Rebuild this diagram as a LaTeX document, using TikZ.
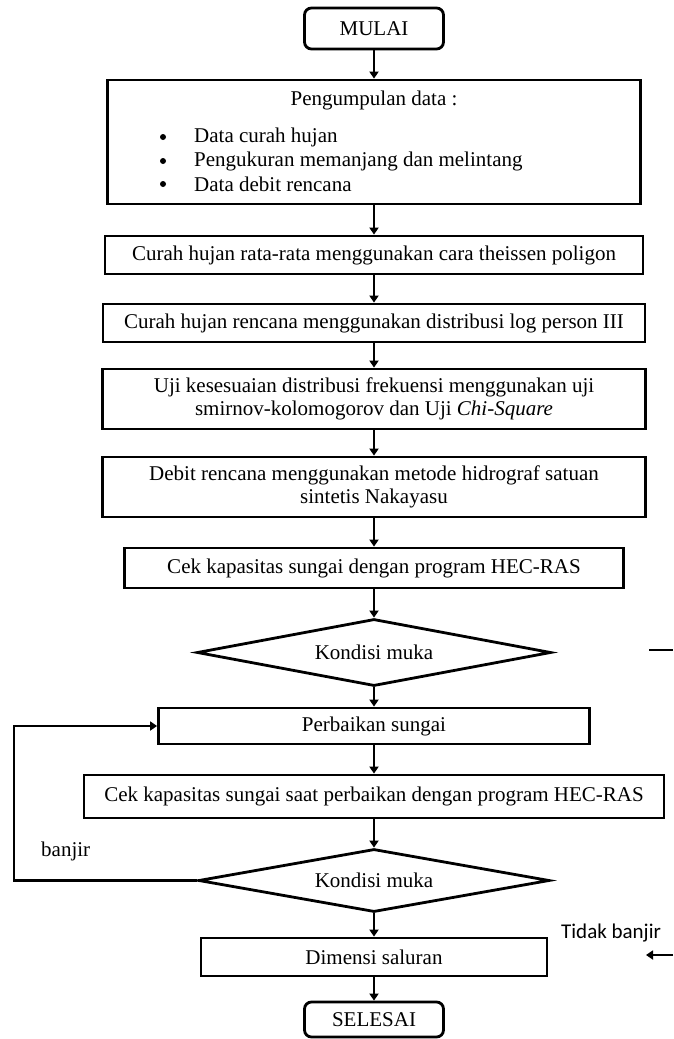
\documentclass[tikz,border=0pt]{standalone}
\usepackage{fontspec}
\setmainfont{Liberation Serif}
\newfontfamily\calibrifont{Carlito}
\usetikzlibrary{shapes.geometric,arrows.meta}
\begin{document}
\begin{tikzpicture}[x=1pt,y=-1pt,
  every node/.style={font=\fontsize{21}{23}\selectfont},
  box/.style={draw, line width=2.8pt, inner sep=0pt, align=center},
  term/.style={box, rounded corners=7pt},
  dec/.style={draw, diamond, line width=2.8pt, inner sep=0pt, shape aspect=5},
  arr/.style={line width=2.6pt, -{Triangle[length=7pt,width=9pt]}},
  plain/.style={line width=2.6pt},
  lab/.style={inner sep=0pt},
  dot/.style={circle, fill, inner sep=0pt, minimum size=6pt}
]
\useasboundingbox (0,0) rectangle (673,1039);
\fill[white] (0,0) rectangle (673,1039);

\node[term, minimum width=139pt, minimum height=41pt] (mulai) at (374,28.5) {MULAI};
\node[box, minimum width=533pt, minimum height=124pt] (b1) at (374,142) {};
\node[lab] (t0) at (374,100) {Pengumpulan data :};
\node[dot] (d1) at (163,137) {};
\node[dot] (d2) at (163,161) {};
\node[dot] (d3) at (163,184) {};
\node[lab, anchor=west] (i1) at (194,137) {Data curah hujan};
\node[lab, anchor=west] (i2) at (194,161) {Pengukuran memanjang dan melintang};
\node[lab, anchor=west] (i3) at (194,184) {Data debit rencana};

\node[box, minimum width=538pt, minimum height=38pt] (b2) at (374,255) {Curah hujan rata-rata menggunakan cara theissen poligon};
\node[box, minimum width=542pt, minimum height=38pt] (b3) at (374,323) {Curah hujan rencana menggunakan distribusi log person III};
\node[box, minimum width=543pt, minimum height=60pt] (b4) at (374,399) {Uji kesesuaian distribusi frekuensi menggunakan uji\\smirnov-kolomogorov dan Uji \textit{Chi-Square}};
\node[box, minimum width=543pt, minimum height=60pt] (b5) at (374,487) {Debit rencana menggunakan metode hidrograf satuan\\sintetis Nakayasu};
\node[box, minimum width=499pt, minimum height=40pt] (b6) at (374,568) {Cek kapasitas sungai dengan program HEC-RAS};
\node[dec, minimum width=354pt, minimum height=67pt] (k1) at (374,652.5) {Kondisi muka};
\node[box, minimum width=431pt, minimum height=36pt] (perb) at (374,726) {Perbaikan sungai};
\node[box, minimum width=580pt, minimum height=43pt] (cek2) at (374,796.5) {Cek kapasitas sungai saat perbaikan dengan program HEC-RAS};
\node[dec, minimum width=351pt, minimum height=63pt] (k2) at (374,880.5) {Kondisi muka};
\node[box, minimum width=346pt, minimum height=38pt] (dim) at (374,957) {Dimensi saluran};
\node[term, minimum width=139pt, minimum height=35pt] (sel) at (374,1019.5) {SELESAI};

\draw[arr] (mulai) -- (b1);
\draw[arr] (b1) -- (b2);
\draw[arr] (b2) -- (b3);
\draw[arr] (b3) -- (b4);
\draw[arr] (b4) -- (b5);
\draw[arr] (b5) -- (b6);
\draw[arr] (b6) -- (k1);
\draw[arr] (k1) -- (perb);
\draw[arr] (perb) -- (cek2);
\draw[arr] (cek2) -- (k2);
\draw[arr] (k2) -- (dim);
\draw[arr] (dim) -- (sel);

\coordinate (lp) at (14,800);
\draw[arr] (k2.west) -- (k2.west -| lp) |- (perb.west);
\node[lab, anchor=west] (bj) at (41,851) {banjir};

\node[lab, anchor=west, font=\calibrifont\fontsize{21}{23}\selectfont] (tb) at (561,933) {Tidak banjir};

\coordinate (s1a) at (649,650);
\coordinate (s1b) at (673,650);
\draw[plain] (s1a) -- (s1b);
\coordinate (s2a) at (673,955);
\coordinate (s2b) at (646,955);
\draw[arr] (s2a) -- (s2b);
\end{tikzpicture}
\end{document}
